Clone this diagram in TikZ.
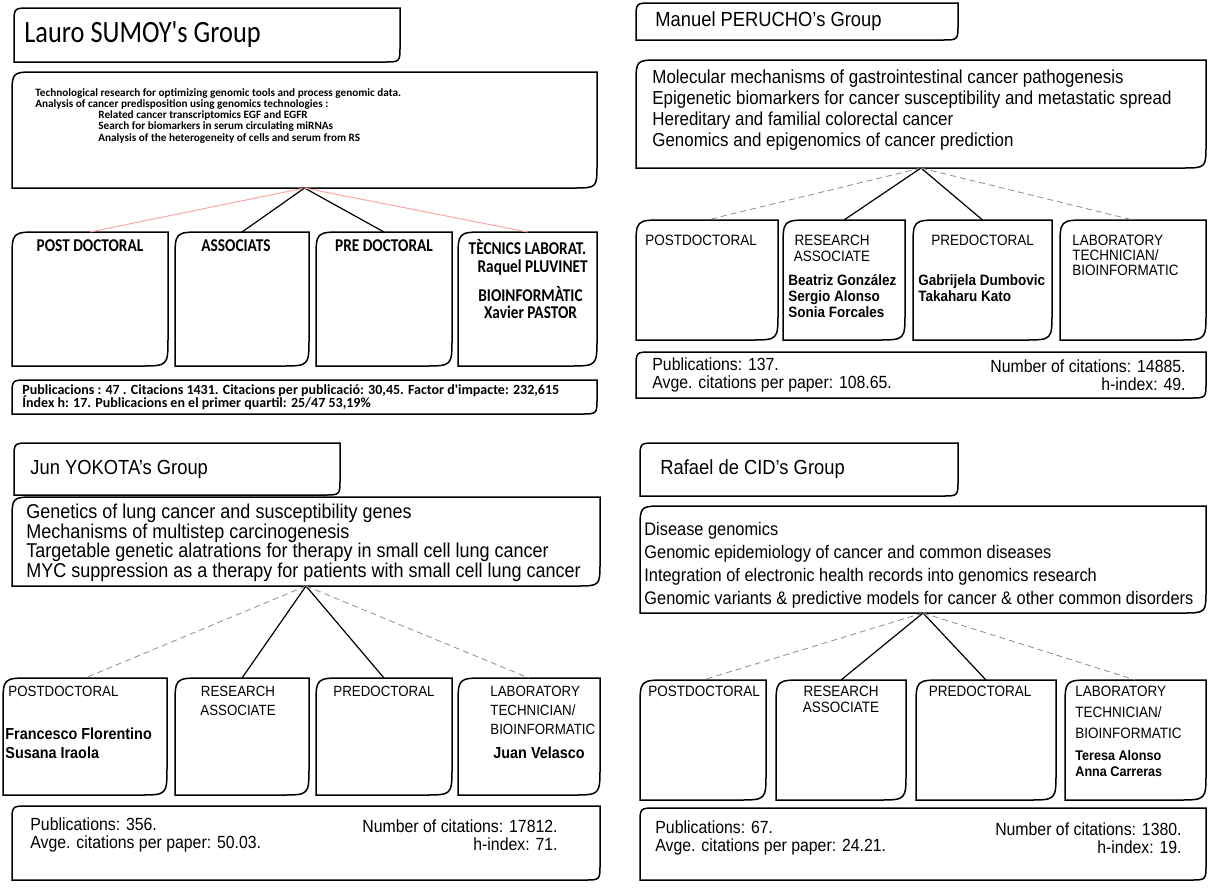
\documentclass[tikz,border=0pt]{standalone}
\usepackage{fontspec}
\setmainfont{Liberation Sans}[FakeStretch=0.9]
\newfontfamily\calfont{Carlito}[FakeStretch=0.85]
\newfontfamily\calwide{Carlito}
\usetikzlibrary{positioning}

% frame with rounded top-left and bottom-right corners
\newcommand{\cutframe}[2]{%
  \draw[frameline] ([yshift=-#2]#1.north west) .. controls (#1.north west) .. ([xshift=#2]#1.north west)
    -- (#1.north east) -- ([yshift=#2]#1.south east)
    .. controls (#1.south east) .. ([xshift=-#2]#1.south east) -- (#1.south west) -- cycle;}
\newcommand{\tightlines}{\lineskiplimit -20pt\relax}

\begin{document}
\begin{tikzpicture}[x=0.5pt, y=-0.5pt,
  frameline/.style={line width=0.75pt},
  boxframe/.style 2 args={minimum width=#1*0.5pt, minimum height=#2*0.5pt,
    anchor=north west, inner sep=0pt, outer sep=0pt},
  caltitle/.style={inner sep=0pt, font=\fontsize{15.5}{18}\calfont},
  calres/.style={inner sep=0pt, align=left, font={\fontsize{5.6}{5.6}\calwide\bfseries\tightlines}},
  calrole/.style={inner sep=0pt, align=center, font=\fontsize{9}{8.5}\calfont\bfseries},
  calstat/.style={inner sep=0pt, align=left, font={\fontsize{7}{6.5}\calwide\bfseries\tightlines}},
  grouptitle/.style={inner sep=0pt, font=\fontsize{10.2}{12}\selectfont},
  restext/.style 2 args={inner sep=0pt, align=left, font={\fontsize{#1}{#2}\selectfont\tightlines}},
  rolelbl/.style 2 args={inner sep=0pt, font=\fontsize{#1}{#2}\selectfont},
  rolename/.style 2 args={inner sep=0pt, align=left, font=\bfseries\fontsize{#1}{#2}\selectfont},
  stattext/.style={inner sep=0pt, font=\fontsize{8.8}{9}\selectfont},
  faintlink/.style={draw=black!45, densely dashed, line width=0.4pt},
  pinklink/.style={draw=red!35, line width=0.5pt},
  tielink/.style={line width=0.6pt}]
  \useasboundingbox (0,0) rectangle (1208,889);

  % Lauro SUMOY
  \node[boxframe={386}{54}] (sumoyT) at (14,8) {};
  \node[caltitle, right=5pt of sumoyT.west] (sumoyTt) {Lauro SUMOY's Group};
  \node[boxframe={585}{116}] (sumoyR) at (12,72) {};
  \node[calres, below right=8pt and 11.5pt of sumoyR.north west] (sumoyRt)
    {Technological research for optimizing genomic tools and process genomic data.\\
     Analysis of cancer predisposition using genomics technologies :\\
     \hspace*{31.5pt}Related cancer transcriptomics EGF and EGFR\\
     \hspace*{31.5pt}Search for biomarkers in serum circulating miRNAs\\
     \hspace*{31.5pt}Analysis of the heterogeneity of cells and serum from RS};
  \node[boxframe={156}{134}] (sumoyPost) at (12,232) {};
  \node[boxframe={134}{134}] (sumoyAssoc) at (175,232) {};
  \node[boxframe={136}{134}] (sumoyPre) at (316,232) {};
  \node[boxframe={139}{134}] (sumoyTec) at (458,232) {};
  \node[calrole, below=3.5pt of sumoyPost.north] (sumoyPostL) {POST DOCTORAL};
  \node[calrole, below=3.5pt of sumoyAssoc.north, xshift=-3pt] (sumoyAssocL) {ASSOCIATS};
  \node[calrole, below=3.5pt of sumoyPre.north] (sumoyPreL) {PRE DOCTORAL};
  \node[calrole, below=3.5pt of sumoyTec.north] (sumoyTecL) {TÈCNICS LABORAT.};
  \node[calrole, below left=13.5pt and 4.5pt of sumoyTec.north east] (sumoyTecN) {Raquel PLUVINET};
  \node[calrole, below=27pt of sumoyTec.north, xshift=1.5pt] (sumoyBioL) {BIOINFORMÀTIC\\Xavier PASTOR};
  \node[boxframe={585}{34}] (sumoyS) at (12,380) {};
  \node[calstat, right=5pt of sumoyS.west] (sumoySt)
    {Publicacions : 47 . Citacions 1431. Citacions per publicació: 30,45. Factor d'impacte: 232,615\\
     Índex h: 17. Publicacions en el primer quartil: 25/47 53,19\%};
  \foreach \n/\r in {sumoyT/8pt, sumoyR/12pt, sumoyPost/14pt, sumoyAssoc/14pt,
    sumoyPre/14pt, sumoyTec/14pt, sumoyS/8pt} {\cutframe{\n}{\r}}
  \draw[pinklink] (sumoyR.south) -- (sumoyPost.north);
  \draw[tielink] (sumoyR.south) -- (sumoyAssoc.north);
  \draw[tielink] (sumoyR.south) -- (sumoyPre.north);
  \draw[pinklink] (sumoyR.south) -- (sumoyTec.north);

  % Manuel PERUCHO
  \node[boxframe={322}{37}] (perT) at (636,3) {};
  \node[grouptitle, right=9.5pt of perT.west] (perTt) {Manuel PERUCHO's Group};
  \node[boxframe={570}{108}] (perR) at (636,60) {};
  \node[restext={9.4}{10.5}, below right=4.5pt and 8pt of perR.north west] (perRt)
    {Molecular mechanisms of gastrointestinal cancer pathogenesis\\
     Epigenetic biomarkers for cancer susceptibility and metastatic spread\\
     Hereditary and familial colorectal cancer\\
     Genomics and epigenomics of cancer prediction};
  \node[boxframe={142}{120}] (perPost) at (636,220) {};
  \node[boxframe={122}{120}] (perAssoc) at (783,220) {};
  \node[boxframe={139}{120}] (perPre) at (913,220) {};
  \node[boxframe={146}{120}] (perTec) at (1060,220) {};
  \node[rolelbl={7.5}{8}, below right=7.5pt and 4.5pt of perPost.north west] (perPostL) {POSTDOCTORAL};
  \node[rolelbl={7.5}{8}, align=center, below=7.5pt of perAssoc.north, xshift=-6pt] (perAssocL) {RESEARCH\\ASSOCIATE};
  \node[rolename={7.5}{8}, below right=27pt and 2.5pt of perAssoc.north west] (perAssocN)
    {Beatriz González\\Sergio Alonso\\Sonia Forcales};
  \node[rolelbl={7.5}{8}, below=7.5pt of perPre.north] (perPreL) {PREDOCTORAL};
  \node[rolename={7.5}{8}, below right=27pt and 2.5pt of perPre.north west] (perPreN)
    {Gabrijela Dumbovic\\Takaharu Kato};
  \node[rolelbl={7.5}{7.5}, align=left, below right=7.5pt and 6pt of perTec.north west] (perTecL)
    {LABORATORY\\TECHNICIAN/\\BIOINFORMATIC};
  \node[boxframe={570}{46}] (perS) at (636,352) {};
  \node[stattext, align=left, right=8pt of perS.west] (perSl)
    {Publications: 137.\\Avge. citations per paper: 108.65.};
  \node[stattext, align=right, left=10pt of perS.east] (perSr)
    {Number of citations: 14885.\\h-index: 49.};
  \foreach \n/\r in {perT/8pt, perR/12pt, perPost/14pt, perAssoc/14pt,
    perPre/14pt, perTec/14pt, perS/8pt} {\cutframe{\n}{\r}}
  \draw[faintlink] (perR.south) -- (perPost.north);
  \draw[tielink] (perR.south) -- (perAssoc.north);
  \draw[tielink] (perR.south) -- (perPre.north);
  \draw[faintlink] (perR.south) -- (perTec.north);

  % Jun YOKOTA
  \node[boxframe={326}{52}] (yokT) at (14,443) {};
  \node[grouptitle, right=8pt of yokT.west] (yokTt) {Jun YOKOTA's Group};
  \node[boxframe={588}{89}] (yokR) at (12,497) {};
  \node[restext={10}{9.7}, below right=3.5pt and 7pt of yokR.north west] (yokRt)
    {Genetics of lung cancer and susceptibility genes\\
     Mechanisms of multistep carcinogenesis\\
     Targetable genetic alatrations for therapy in small cell lung cancer\\
     MYC suppression as a therapy for patients with small cell lung cancer};
  \node[boxframe={164}{117}] (yokPost) at (3,678) {};
  \node[boxframe={134}{117}] (yokAssoc) at (175,678) {};
  \node[boxframe={136}{117}] (yokPre) at (316,678) {};
  \node[boxframe={142}{117}] (yokTec) at (458,678) {};
  \node[rolelbl={7.4}{9.5}, below right=4pt and 2.5pt of yokPost.north west] (yokPostL) {POSTDOCTORAL};
  \node[rolename={8}{9.5}, below right=24.5pt and 1pt of yokPost.north west] (yokPostN)
    {Francesco Florentino\\Susana Iraola};
  \node[rolelbl={7.4}{9.5}, align=center, below=4pt of yokAssoc.north, xshift=-2pt] (yokAssocL) {RESEARCH\\ASSOCIATE};
  \node[rolelbl={7.4}{9.5}, below=4pt of yokPre.north] (yokPreL) {PREDOCTORAL};
  \node[rolelbl={7.4}{9.5}, align=left, below right=4pt and 16pt of yokTec.north west] (yokTecL)
    {LABORATORY\\TECHNICIAN/\\BIOINFORMATIC};
  \node[rolename={8}{9.5}, below right=34pt and 17.5pt of yokTec.north west] (yokTecN) {Juan Velasco};
  \node[boxframe={588}{74}] (yokS) at (12,806) {};
  \node[stattext, align=left, right=9pt of yokS.west, yshift=4pt] (yokSl)
    {Publications: 356.\\Avge. citations per paper: 50.03.};
  \node[stattext, align=right, left=21pt of yokS.east, yshift=4pt] (yokSr)
    {Number of citations: 17812.\\h-index: 71.};
  \foreach \n/\r in {yokT/8pt, yokR/12pt, yokPost/14pt, yokAssoc/14pt,
    yokPre/14pt, yokTec/14pt, yokS/8pt} {\cutframe{\n}{\r}}
  \draw[faintlink] (yokR.south) -- (yokPost.north);
  \draw[tielink] (yokR.south) -- (yokAssoc.north);
  \draw[tielink] (yokR.south) -- (yokPre.north);
  \draw[faintlink] (yokR.south) -- (yokTec.north);

  % Rafael de CID
  \node[boxframe={318}{53}] (cidT) at (640,443) {};
  \node[grouptitle, right=10pt of cidT.west] (cidTt) {Rafael de CID's Group};
  \node[boxframe={566}{107}] (cidR) at (640,506) {};
  \node[restext={9.1}{11.5}, below right=8pt and 2pt of cidR.north west] (cidRt)
    {Disease genomics\\
     Genomic epidemiology of cancer and common diseases\\
     Integration of electronic health records into genomics research\\
     Genomic variants \& predictive models for cancer \& other common disorders};
  \node[boxframe={126}{120}] (cidPost) at (640,680) {};
  \node[boxframe={130}{120}] (cidAssoc) at (776,680) {};
  \node[boxframe={140}{120}] (cidPre) at (916,680) {};
  \node[boxframe={141}{120}] (cidTec) at (1065,680) {};
  \node[rolelbl={7.5}{8}, below right=3pt and 4pt of cidPost.north west] (cidPostL) {POSTDOCTORAL};
  \node[rolelbl={7.5}{8}, align=center, below=3pt of cidAssoc.north] (cidAssocL) {RESEARCH\\ASSOCIATE};
  \node[rolelbl={7.5}{8}, below=3pt of cidPre.north, xshift=-3pt] (cidPreL) {PREDOCTORAL};
  \node[rolelbl={7.5}{10.5}, align=left, below right=3pt and 5pt of cidTec.north west] (cidTecL)
    {LABORATORY\\TECHNICIAN/\\BIOINFORMATIC};
  \node[rolename={7}{8}, below right=35pt and 5pt of cidTec.north west] (cidTecN)
    {Teresa Alonso\\Anna Carreras};
  \node[boxframe={566}{72}] (cidS) at (640,808) {};
  \node[stattext, align=left, right=7.5pt of cidS.west, yshift=3pt] (cidSl)
    {Publications: 67.\\Avge. citations per paper: 24.21.};
  \node[stattext, align=right, left=12pt of cidS.east, yshift=3pt] (cidSr)
    {Number of citations: 1380.\\h-index: 19.};
  \foreach \n/\r in {cidT/8pt, cidR/12pt, cidPost/14pt, cidAssoc/14pt,
    cidPre/14pt, cidTec/14pt, cidS/8pt} {\cutframe{\n}{\r}}
  \draw[faintlink] (cidR.south) -- (cidPost.north);
  \draw[tielink] (cidR.south) -- (cidAssoc.north);
  \draw[tielink] (cidR.south) -- (cidPre.north);
  \draw[faintlink] (cidR.south) -- (cidTec.north);
\end{tikzpicture}
\end{document}
